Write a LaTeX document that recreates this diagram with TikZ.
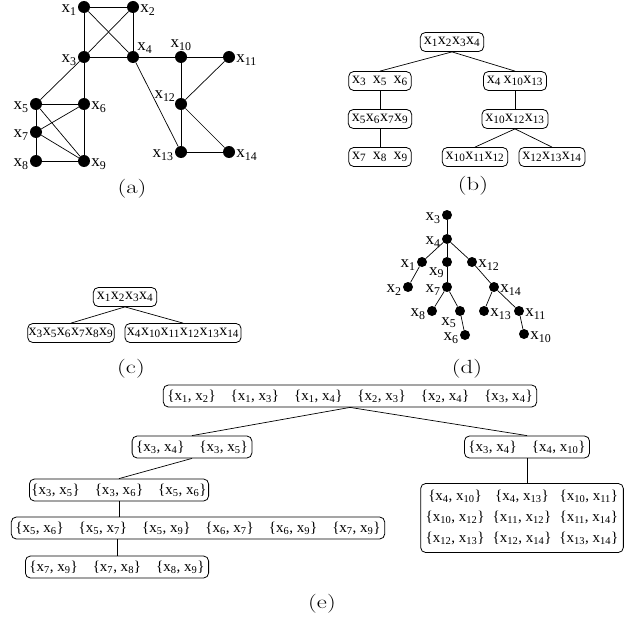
\documentclass[tikz,border=0pt]{standalone}
\usepackage{fontspec}
\usepackage{tikz}
\usetikzlibrary{positioning}
\newfontfamily\labfont{Liberation Serif}
\newcommand{\vx}[1]{x\textsubscript{#1}}
\newcommand{\ed}[2]{\{\vx{#1}, \vx{#2}\}}
\tikzset{
  vdot/.style={circle, fill=black, inner sep=0pt, minimum size=12pt},
  tdot/.style={circle, fill=black, inner sep=0pt, minimum size=10pt},
  vlabel/.style={font=\labfont\fontsize{17}{19}\selectfont, inner sep=1pt,
    yshift=-3pt},
  cliquebox/.style={draw=black, rounded corners=5pt, line width=0.8pt,
    inner xsep=3.5pt, inner ysep=1pt, minimum height=19pt,
    font=\labfont\fontsize{16}{18}\selectfont},
  sepbox/.style={cliquebox, minimum height=22pt, inner xsep=4pt,
    font=\labfont\fontsize{15}{17}\selectfont},
  capt/.style={font=\fontsize{19}{23}\selectfont, xscale=1.3},
  tedge/.style={line width=0.7pt}
}

\begin{document}
\begin{tikzpicture}[x=1pt,y=-1pt]
  \useasboundingbox (0,0) rectangle (642,623);

  % (a) the graph
  \node[vdot, label={[vlabel]left:\vx{1}}] (a1) at (84,7) {};
  \node[vdot, label={[vlabel]right:\vx{2}}] (a2) at (133,7) {};
  \node[vdot, label={[vlabel]left:\vx{3}}] (a3) at (84,57) {};
  \node[vdot, label={[vlabel]60:\vx{4}}] (a4) at (133,57) {};
  \node[vdot, label={[vlabel, yshift=2pt]above:\vx{10}}] (a10) at (181,57) {};
  \node[vdot, label={[vlabel]right:\vx{11}}] (a11) at (229,57) {};
  \node[vdot, label={[vlabel]135:\vx{12}}] (a12) at (181,104) {};
  \node[vdot, label={[vlabel]left:\vx{13}}] (a13) at (181,152) {};
  \node[vdot, label={[vlabel]right:\vx{14}}] (a14) at (229,152) {};
  \node[vdot, label={[vlabel]left:\vx{5}}] (a5) at (36,104) {};
  \node[vdot, label={[vlabel]right:\vx{6}}] (a6) at (84,104) {};
  \node[vdot, label={[vlabel]left:\vx{7}}] (a7) at (36,132) {};
  \node[vdot, label={[vlabel]left:\vx{8}}] (a8) at (36,161) {};
  \node[vdot, label={[vlabel]right:\vx{9}}] (a9) at (84,161) {};
  \foreach \u/\v in {1/2,1/3,1/4,2/3,2/4,3/4,4/10,10/11,10/12,11/12,4/13,
      12/13,12/14,13/14,3/5,3/6,5/6,5/7,5/9,6/7,6/9,7/9,7/8,8/9}
    \draw[tedge] (a\u) -- (a\v);
  \node[capt] (capa) at (132,189) {(a)};

  % (b) clique tree
  \node[cliquebox] (b1) at (452,42) {\vx{1}\vx{2}\vx{3}\vx{4}};
  \node[cliquebox] (b2) at (380,81) {\vx{3}\, \vx{5}\, \vx{6}};
  \node[cliquebox] (b3) at (515,81) {\vx{4}\,\vx{10}\vx{13}};
  \node[cliquebox] (b4) at (380,119) {\vx{5}\vx{6}\vx{7}\vx{9}};
  \node[cliquebox] (b5) at (515,119) {\vx{10}\vx{12}\vx{13}};
  \node[cliquebox] (b6) at (380,157) {\vx{7}\, \vx{8}\, \vx{9}};
  \node[cliquebox] (b7) at (475,157) {\vx{10}\vx{11}\vx{12}};
  \node[cliquebox] (b8) at (552,157) {\vx{12}\vx{13}\vx{14}};
  \draw[tedge] (b1.south) -- (b2.north);
  \draw[tedge] (b1.south) -- (b3.north);
  \draw[tedge] (b2) -- (b4);
  \draw[tedge] (b4) -- (b6);
  \draw[tedge] (b3) -- (b5);
  \draw[tedge] (b5.south) -- (b7.north);
  \draw[tedge] (b5.south) -- (b8.north);
  \node[capt] (capb) at (473,186) {(b)};

  % (c) two-level tree
  \node[cliquebox] (c1) at (125,297) {\vx{1}\vx{2}\vx{3}\vx{4}};
  \node[cliquebox, inner xsep=1pt] (c2) at (71,333)
    {\vx{3}\vx{5}\vx{6}\vx{7}\vx{8}\vx{9}};
  \node[cliquebox, inner xsep=2pt] (c3) at (183,333)
    {\vx{4}\vx{10}\vx{11}\vx{12}\vx{13}\vx{14}};
  \draw[tedge] (c1.south) -- (c2.north);
  \draw[tedge] (c1.south) -- (c3.north);
  \node[capt] (capc) at (131,369) {(c)};

  % (d) elimination tree
  \node[tdot, label={[vlabel]left:\vx{3}}] (d3) at (447,215) {};
  \node[tdot, label={[vlabel]left:\vx{4}}] (d4) at (447,239) {};
  \node[tdot, label={[vlabel]left:\vx{1}}] (d1) at (422,262) {};
  \node[tdot, label={[vlabel, label distance=-3pt]215:\vx{9}}] (d9) at (447,262) {};
  \node[tdot, label={[vlabel]right:\vx{12}}] (d12) at (472,262) {};
  \node[tdot, label={[vlabel]left:\vx{2}}] (d2) at (408,287) {};
  \node[tdot, label={[vlabel]left:\vx{7}}] (d7) at (447,287) {};
  \node[tdot, label={[vlabel]right:\vx{14}}] (d14) at (494,287) {};
  \node[tdot, label={[vlabel]left:\vx{8}}] (d8) at (432,311) {};
  \node[tdot, label={[vlabel, label distance=-2pt]220:\vx{5}}] (d5) at (460,311) {};
  \node[tdot, label={[vlabel]left:\vx{6}}] (d6) at (465,335) {};
  \node[tdot, label={[vlabel]right:\vx{13}}] (d13) at (484,311) {};
  \node[tdot, label={[vlabel]right:\vx{11}}] (d11) at (519,311) {};
  \node[tdot, label={[vlabel]right:\vx{10}}] (d10) at (524,334) {};
  \foreach \u/\v in {3/4,4/1,4/9,4/12,1/2,9/7,12/14,7/8,7/5,5/6,14/13,
      14/11,11/10}
    \draw[tedge] (d\u) -- (d\v);
  \node[capt] (capd) at (467,369) {(d)};

  % (e) tree of edge sets
  \node[sepbox] (e1) at (350,396)
    {\ed{1}{2}\quad\ed{1}{3}\quad\ed{1}{4}\quad\ed{2}{3}\quad\ed{2}{4}\quad\ed{3}{4}};
  \node[sepbox] (e2) at (192,447) {\ed{3}{4}\quad\ed{3}{5}};
  \node[sepbox] (e3) at (527,447) {\ed{3}{4}\quad\ed{4}{10}};
  \node[sepbox, inner xsep=2pt] (e4) at (119,490)
    {\ed{3}{5}\quad\ed{3}{6}\quad\ed{5}{6}};
  \node[sepbox] (e5) at (198,528)
    {\ed{5}{6}\quad\ed{5}{7}\quad\ed{5}{9}\quad\ed{6}{7}\quad\ed{6}{9}\quad\ed{7}{9}};
  \node[sepbox] (e6) at (117,567) {\ed{7}{9}\quad\ed{7}{8}\quad\ed{8}{9}};
  \node[sepbox, inner sep=5pt] (e7) at (522,518)
    {\setlength\tabcolsep{4pt}\begin{tabular}{@{}ccc@{}}
      \ed{4}{10} & \ed{4}{13} & \ed{10}{11}\\[4pt]
      \ed{10}{12} & \ed{11}{12} & \ed{11}{14}\\[4pt]
      \ed{12}{13} & \ed{12}{14} & \ed{13}{14}
    \end{tabular}};
  \draw[tedge] (e1.south) -- (e2.north);
  \draw[tedge] (e1.south) -- (e3.north);
  \draw[tedge] (e2.south) -- (e4.north);
  \draw[tedge] (e4.south) -- (e4.south |- e5.north);
  \draw[tedge] (e6.north |- e5.south) -- (e6.north);
  \draw[tedge] (e3.south) -- (e3.south |- e7.north);
  \node[capt] (cape) at (322,604) {(e)};
\end{tikzpicture}
\end{document}
